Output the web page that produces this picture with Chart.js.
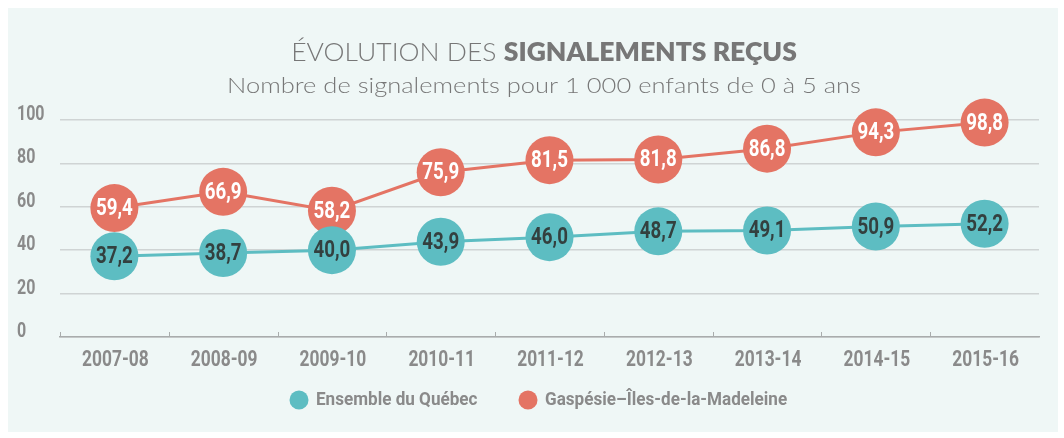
<!DOCTYPE html>
<html>
<head>
<meta charset="utf-8">
<script src="https://cdn.jsdelivr.net/npm/chart.js@4/dist/chart.umd.min.js"></script>
<style>
  html, body { margin: 0; padding: 0; background: #ffffff; overflow: hidden; }
  canvas { display: block; }
</style>
</head>
<body>
<canvas id="signalements" width="1064" height="438" style="width:1064px;height:438px"></canvas>
<script>
// données
var annees = ["2007-08", "2008-09", "2009-10", "2010-11", "2011-12", "2012-13", "2013-14", "2014-15", "2015-16"];
var quebec = [37.2, 38.7, 40.0, 43.9, 46.0, 48.7, 49.1, 50.9, 52.2];
var gaspesie = [59.4, 66.9, 58.2, 75.9, 81.5, 81.8, 86.8, 94.3, 98.8];
var yTicks = [0, 20, 40, 60, 80, 100];

var TEAL = '#5dbdc2';
var CORAL = '#e47464';
var GREY = '#8a8a8a';
var COND = 'Roboto, "DejaVu Sans Condensed", sans-serif';

// texte comprimé horizontalement (police condensée absente)
function texte(ctx, str, x, y, sx, align) {
    ctx.save();
    ctx.translate(x, y);
    ctx.scale(sx, 1);
    ctx.textAlign = align;
    ctx.fillText(str, 0, 0);
    ctx.restore();
}

// fond, titre, étiquettes d'axes et légende
var decor = {
    id: 'decor',
    beforeDraw: function (chart) {
        var ctx = chart.ctx;
        ctx.save();
        ctx.fillStyle = '#eff7f6';
        ctx.fillRect(8, 8, 1050, 424);
        ctx.restore();
    },
    afterDraw: function (chart) {
        var ctx = chart.ctx;
        var cx = 544;
        var xs = chart.scales.x, ys = chart.scales.y, area = chart.chartArea;
        ctx.save();
        ctx.textBaseline = 'alphabetic';
        ctx.fillStyle = '#777777';
        // titre en deux graisses
        var t1 = 'ÉVOLUTION DES ', t2 = 'SIGNALEMENTS REÇUS';
        var f1 = '300 26px Lato, "Open Sans", sans-serif';
        var f2 = '800 26px Lato, "Open Sans", sans-serif';
        var sx = 1.02;
        ctx.font = f1; var w1 = ctx.measureText(t1).width * sx;
        ctx.font = f2; var w2 = ctx.measureText(t2).width * sx;
        var x0 = cx - (w1 + w2) / 2;
        ctx.font = f1; texte(ctx, t1, x0, 61, sx, 'left');
        ctx.font = f2; texte(ctx, t2, x0 + w1, 61, sx, 'left');
        // sous-titre
        ctx.font = '300 22px Lato, "Open Sans", sans-serif';
        texte(ctx, 'Nombre de signalements pour 1 000 enfants de 0 à 5 ans', cx, 93, 1.16, 'center');

        // graduations de l'axe y
        ctx.fillStyle = GREY;
        ctx.font = 'bold 20px ' + COND;
        ys.ticks.forEach(function (t) {
            texte(ctx, String(t.value), 17, ys.getPixelForValue(t.value), 0.8, 'left');
        });
        // catégories de l'axe x
        ctx.font = 'bold 22px ' + COND;
        annees.forEach(function (a, i) {
            texte(ctx, a, xs.getPixelForTick(i) + 1, 366, 0.79, 'center');
        });
        // petits traits vers le haut aux limites des catégories
        var bande = (area.right - area.left) / annees.length;
        ctx.strokeStyle = '#a9acac';
        ctx.lineWidth = 1;
        for (var i = 0; i < annees.length; i++) {
            var xt = Math.round(area.left + i * bande) + 0.5;
            ctx.beginPath();
            ctx.moveTo(xt, area.bottom);
            ctx.lineTo(xt, area.bottom - 5);
            ctx.stroke();
        }

        // légende
        var items = [
            { txt: 'Ensemble du Québec', col: TEAL, x: 299 },
            { txt: 'Gaspésie–Îles-de-la-Madeleine', col: CORAL, x: 528 }
        ];
        ctx.font = 'bold 19px ' + COND;
        ctx.textBaseline = 'middle';
        items.forEach(function (it) {
            ctx.fillStyle = it.col;
            ctx.beginPath();
            ctx.arc(it.x, 400, 9.5, 0, Math.PI * 2);
            ctx.fill();
            ctx.fillStyle = GREY;
            texte(ctx, it.txt, it.x + 17, 400, 0.9, 'left');
        });
        ctx.restore();
    }
};

// valeurs dans les pastilles
var etiquettes = {
    id: 'etiquettes',
    afterDatasetsDraw: function (chart) {
        var ctx = chart.ctx;
        ctx.save();
        ctx.font = 'bold 24px ' + COND;
        ctx.textBaseline = 'middle';
        chart.data.datasets.forEach(function (ds, i) {
            var meta = chart.getDatasetMeta(i);
            ctx.fillStyle = ds.labelColor;
            meta.data.forEach(function (pt, j) {
                texte(ctx, ds.data[j].toFixed(1).replace('.', ','), pt.x, pt.y + 1, 0.78, 'center');
            });
        });
        ctx.restore();
    }
};

var ctx = document.getElementById('signalements');
var myChart = new Chart(ctx, {
    type: 'line',
    data: {
        labels: annees,
        datasets: [{
            label: 'Ensemble du Québec',
            data: quebec,
            borderColor: TEAL,
            backgroundColor: TEAL,
            labelColor: '#33403f',
            borderWidth: 3,
            pointRadius: 24,
            pointHoverRadius: 24,
            pointBorderWidth: 0,
            clip: false
        }, {
            label: 'Gaspésie–Îles-de-la-Madeleine',
            data: gaspesie,
            borderColor: CORAL,
            backgroundColor: CORAL,
            labelColor: '#ffffff',
            borderWidth: 3,
            pointRadius: 24,
            pointHoverRadius: 24,
            pointBorderWidth: 0,
            clip: false
        }]
    },
    options: {
        responsive: false,
        animation: false,
        devicePixelRatio: 1,
        layout: { padding: { top: 120, right: 25, bottom: 0, left: 0 } },
        plugins: {
            legend: { display: false },
            title: { display: false },
            tooltip: { enabled: false }
        },
        scales: {
            x: {
                offset: true,
                grid: { display: false },
                border: { color: '#a9acac', width: 1.5 },
                ticks: { display: false },
                afterFit: function (s) { s.height = 101; }
            },
            y: {
                min: 0,
                max: 100,
                afterBuildTicks: function (s) { s.ticks = yTicks.map(function (v) { return { value: v }; }); },
                grid: { color: '#cfd4d4', lineWidth: 1.5, drawTicks: false },
                border: { display: false },
                ticks: { display: false },
                afterFit: function (s) { s.width = 60; }
            }
        }
    },
    plugins: [decor, etiquettes]
});
</script>
</body>
</html>
